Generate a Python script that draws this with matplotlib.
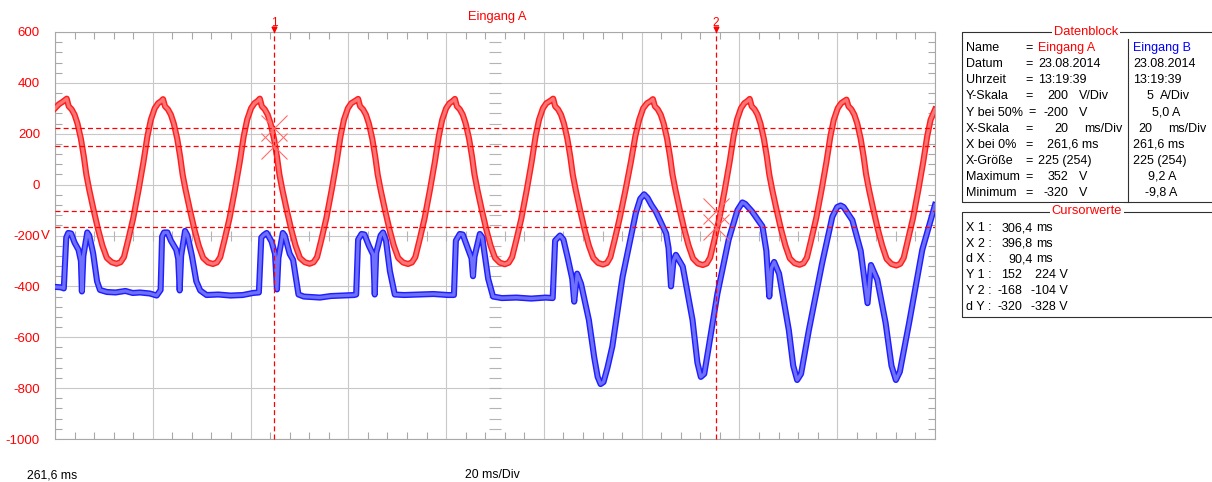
import numpy as np
import matplotlib
matplotlib.use("Agg")
import matplotlib.pyplot as plt
from matplotlib.lines import Line2D
from matplotlib.ticker import AutoMinorLocator

plt.rcParams['font.family'] = ['Liberation Sans', 'DejaVu Sans']

# --- screen settings -------------------------------------------------------
x_start = 261.6          # ms at left edge
x_div = 20               # ms/Div
n_xdiv = 9
y_ticks = [600, 400, 200, 0, -200, -400, -600, -800, -1000]
y_labels = ["600", "400", "200", "0", "-200", "-400", "-600", "-800", "-1000"]

# channel B scale (A): 5 A/Div, 5,0 A sits at screen centre (-200 V line)
b_per_div = 5.0
b_center = 5.0

# cursors
x1_ms, x2_ms = 306.4, 396.8
y1_vals = (152, 224)
y2_vals = (-168, -104)

# --- Eingang A (V) --------------------------------------------------------
t_a = [261.6, 262.4, 263.2,
       264.0, 264.4, 265.0, 265.6, 266.2, 266.9, 267.5, 268.0, 268.6, 269.5, 270.4, 271.3, 272.2, 273.2,
       274.2, 275.0, 275.7, 276.6, 277.6, 278.7, 279.7, 280.5, 281.2, 282.0, 282.7, 283.3,
       283.7, 284.1, 284.7, 285.3, 285.9, 286.6, 287.2, 287.7, 288.3, 289.2, 290.1, 291.0, 291.9, 292.9,
       293.9, 294.7, 295.4, 296.3, 297.3, 298.4, 299.4, 300.2, 300.9, 301.7, 302.4, 303.0,
       303.5, 303.9, 304.5, 305.1, 305.7, 306.4, 307.0, 307.5, 308.1, 309.0, 309.9, 310.8, 311.7, 312.7,
       313.7, 314.5, 315.2, 316.1, 317.1, 318.2, 319.2, 320.0, 320.7, 321.5, 322.2, 322.9,
       323.6, 324.0, 324.6, 325.2, 325.8, 326.5, 327.1, 327.6, 328.2, 329.1, 330.0, 330.9, 331.8, 332.8,
       333.8, 334.6, 335.3, 336.2, 337.2, 338.3, 339.3, 340.1, 340.8, 341.6, 342.3, 342.9,
       343.4, 343.8, 344.4, 345.0, 345.6, 346.3, 346.9, 347.4, 348.0, 348.9, 349.8, 350.7, 351.6, 352.6,
       353.6, 354.4, 355.1, 356.0, 357.0, 358.1, 359.1, 359.9, 360.6, 361.4, 362.1, 362.8,
       363.5, 363.9, 364.5, 365.1, 365.7, 366.4, 367.0, 367.5, 368.1, 369.0, 369.9, 370.8, 371.7, 372.7,
       373.7, 374.5, 375.2, 376.1, 377.1, 378.3, 379.4, 380.3, 381.1, 381.9, 382.7, 383.4,
       383.9, 384.3, 384.9, 385.5, 386.1, 386.8, 387.4, 387.9, 388.5, 389.4, 390.3, 391.2, 392.1, 393.1,
       394.1, 394.9, 395.6, 396.5, 397.5, 398.6, 399.6, 400.4, 401.1, 401.9, 402.6, 403.2,
       403.7, 404.1, 404.7, 405.3, 405.9, 406.6, 407.2, 407.7, 408.3, 409.2, 410.1, 411.0, 411.9, 412.9,
       413.9, 414.7, 415.4, 416.3, 417.3, 418.4, 419.4, 420.2, 420.9, 421.7, 422.4, 423.0,
       423.5, 423.9, 424.5, 425.1, 425.7, 426.4, 427.0, 427.5, 428.1, 429.0, 429.9, 430.8, 431.7, 432.7,
       433.7, 434.5, 435.2, 436.1, 437.1, 438.2, 439.2, 440.0, 440.7, 441.6]
u_a = [300, 316, 326,
       338, 308, 296, 275, 240, 180, 110, 40, -20, -100, -175, -240, -288, -305,
       -311, -305, -285, -215, -132, -20, 90, 190, 255, 300, 320, 328,
       336, 308, 296, 275, 240, 180, 110, 40, -20, -100, -175, -240, -288, -306,
       -312, -306, -285, -215, -132, -20, 90, 190, 255, 300, 320, 328,
       338, 308, 296, 275, 240, 180, 110, 40, -20, -100, -175, -240, -288, -305,
       -311, -305, -285, -215, -132, -20, 90, 190, 255, 300, 320, 328,
       337, 308, 296, 275, 240, 180, 110, 40, -20, -100, -175, -240, -288, -306,
       -312, -306, -285, -215, -132, -20, 90, 190, 255, 300, 320, 328,
       337, 308, 296, 275, 240, 180, 110, 40, -20, -100, -175, -240, -288, -307,
       -313, -307, -285, -215, -132, -20, 90, 190, 255, 300, 320, 328,
       338, 308, 296, 275, 240, 180, 110, 40, -20, -100, -175, -240, -288, -308,
       -314, -308, -285, -215, -132, -20, 90, 190, 255, 300, 320, 328,
       336, 308, 296, 275, 240, 180, 110, 40, -20, -100, -175, -240, -290, -310,
       -316, -310, -287, -215, -132, -20, 90, 190, 255, 300, 320, 328,
       337, 308, 296, 275, 240, 180, 110, 40, -20, -100, -175, -240, -290, -309,
       -315, -309, -287, -215, -132, -20, 90, 190, 255, 300, 320, 328,
       334, 308, 296, 275, 240, 180, 110, 40, -20, -100, -175, -240, -292, -312,
       -318, -311, -288, -215, -132, -20, 90, 190, 255, 295]

# --- Eingang B (A) --------------------------------------------------------
t_b = [261.6, 262.9, 263.4, 263.9, 264.3, 264.9, 265.6, 266.4, 266.9, 267.1, 267.4, 268.2, 268.6, 269.4, 270.2, 270.8,
       272.2, 274.0, 276.0, 277.5, 279.0, 281.0, 282.4,
       283.2, 283.5, 283.9, 284.6, 285.3, 286.4, 286.8, 287.1, 287.4, 288.2, 288.7, 289.6, 290.5, 291.3,
       292.6, 295.0, 297.5, 300.0, 302.1,
       303.3, 303.8, 304.3, 304.9, 305.9, 306.6, 307.0, 307.3, 308.2, 308.6, 309.6, 310.3, 311.4,
       312.5, 315.8, 318.0, 320.5, 322.8,
       323.2, 323.6, 324.3, 324.9, 325.8, 326.7, 327.0, 327.3, 328.2, 328.7, 329.3, 330.1, 331.1,
       333.0, 336.0, 339.0, 342.0, 343.2,
       343.6, 344.4, 345.0, 346.0, 346.8, 347.1, 347.4, 348.5, 349.0, 350.2, 351.2,
       353.0, 356.0, 359.0, 362.0, 363.4,
       363.9, 364.9, 365.6, 366.5, 367.4, 367.8, 368.4, 369.2, 370.8, 371.9, 372.6, 373.2, 373.8, 374.6,
       375.6, 377.7, 380.4, 381.3, 382.1, 382.8, 383.6, 384.5, 386.6, 387.1, 387.6, 388.1, 388.6, 390.0,
       392.0, 393.0, 393.7, 394.4, 395.3, 397.1, 399.4, 401.2, 402.2, 402.8, 404.2, 406.3, 407.1, 407.7,
       408.1, 408.7, 409.7, 411.7, 412.6, 413.4, 414.2, 415.8, 418.5, 420.6, 421.6, 422.3, 422.9, 424.7,
       426.4, 427.8, 428.5, 429.8, 431.5, 432.7, 433.6, 434.4, 436.3, 439.0, 441.6]
i_b = [-0.05, -0.1, -0.2, 4.8, 5.25, 5.2, 4.3, 3.6, 2.5, -0.5, 3.0, 5.3, 5.0, 3.25, 0.5, -0.35,
       -0.55, -0.6, -0.45, -0.65, -0.6, -0.7, -0.9,
       -0.35, 4.9, 5.3, 5.3, 4.5, 3.6, 2.7, -0.4, 3.0, 5.45, 5.0, 3.0, 0.5, -0.4,
       -0.85, -0.8, -0.9, -0.85, -0.65,
       -0.6, 4.8, 5.05, 5.25, 4.4, 3.2, -0.3, 2.8, 5.25, 5.0, 3.2, 2.6, -0.8,
       -1.0, -1.1, -0.95, -0.9, -0.85,
       -0.8, 4.6, 5.15, 5.1, 4.0, 3.1, -0.8, 3.3, 5.0, 5.3, 4.5, 1.5, -0.8,
       -0.85, -0.8, -0.75, -0.85, -0.85,
       4.5, 5.15, 5.1, 3.8, 2.75, 1.0, 2.9, 5.15, 4.8, 0.75, -1.0,
       -1.15, -1.1, -1.2, -1.1, -1.15,
       4.5, 5.0, 4.6, 2.75, 0.75, -1.5, 1.25, 0.25, -3.3, -7.0, -8.9, -9.6, -9.4, -8.0,
       -5.9, 0.95, 7.2, 8.6, 9.05, 8.7, 8.0, 7.35, 5.2, 3.75, 0.0, 2.5, 3.1, 1.95,
       -3.3, -7.5, -8.9, -8.6, -6.0, -0.7, 4.6, 7.5, 8.25, 8.1, 7.35, 5.9, 3.5, -1.0,
       1.75, 2.4, 1.25, -4.3, -7.8, -9.2, -8.6, -4.3, 2.25, 6.85, 7.8, 7.95, 7.8, 6.5,
       3.5, -1.65, 2.1, 0.65, -3.6, -7.8, -9.2, -8.4, -3.6, 3.6, 8.0]

# channel B on the screen scale
y_b = [(v - b_center) / b_per_div * 200 - 200 for v in i_b]

# --- figure ---------------------------------------------------------------
W, H = 1212, 482
fig = plt.figure(figsize=(W / 100, H / 100), dpi=100)
fig.patch.set_facecolor("white")


def fx(x):
    return x / W


def fy(y):
    return 1 - y / H


ax = fig.add_axes([fx(55), fy(439), fx(935) - fx(55), fy(32) - fy(439)])
x_end = x_start + n_xdiv * x_div
ax.set_xlim(x_start, x_end)
ax.set_ylim(-1000, 600)
ax.set_xticks([x_start + k * x_div for k in range(n_xdiv + 1)])
ax.set_yticks(y_ticks)
ax.set_yticklabels(y_labels, color="red", fontsize=9.5)
ax.tick_params(axis="x", which="major", length=0, labelbottom=False)
ax.tick_params(axis="y", which="major", length=0, pad=10.8)
ax.xaxis.set_minor_locator(AutoMinorLocator(5))
ax.yaxis.set_minor_locator(AutoMinorLocator(5))
ax.tick_params(which="minor", direction="in", length=5, width=0.8, color="#a8a8a8",
               top=True, right=True)
ax.grid(True, which="major", color="#c8c8c8", lw=0.8)
ax.set_axisbelow(True)
for s in ax.spines.values():
    s.set_color("#a8a8a8")
    s.set_linewidth(0.8)

# centre cross ticks
x_mid = x_start + n_xdiv * x_div / 2
ym = np.arange(-1000, 601, 40)
ax.plot([x_mid] * len(ym), ym, ls="none", marker="_", ms=8, mew=0.8, color="#b4b4b4", zorder=1)
xm = np.arange(x_start, x_end + 0.01, x_div / 5)
ax.plot(xm, [-200] * len(xm), ls="none", marker="|", ms=7, mew=0.8, color="#b4b4b4", zorder=1)

# traces (band look: dark edge, lighter core)
ax.plot(t_a, u_a, color="#ff1e1e", lw=4.4, solid_joinstyle="round", zorder=3)
ax.plot(t_a, u_a, color="#ff7474", lw=2.3, solid_joinstyle="round", zorder=3)
ax.plot(t_b, y_b, color="#1e1eff", lw=4.4, solid_joinstyle="round", zorder=4)
ax.plot(t_b, y_b, color="#7070ff", lw=2.3, solid_joinstyle="round", zorder=4)

# cursors
dash = (0, (4, 2.5))
for yv in list(y1_vals) + list(y2_vals):
    ax.axhline(yv, color="red", lw=0.9, ls=dash, zorder=5)
for k, xc in enumerate([x1_ms, x2_ms], start=1):
    ax.plot([xc, xc], [-1000, 608], color="red", lw=0.9, ls=dash, zorder=5, clip_on=False)
    ax.plot(xc, 610, marker="v", ms=3.5, color="red", clip_on=False, zorder=6)
    ax.text(xc, 637, str(k), color="red", ha="center", va="center", fontsize=8.5, clip_on=False)
for yv in y1_vals:
    ax.plot(x1_ms, yv, marker="x", ms=19, mew=0.8, color="#ff6a6a", zorder=6)
for yv in y2_vals:
    ax.plot(x2_ms, yv, marker="x", ms=19, mew=0.8, color="#ff6a6a", zorder=6)

fig.text(fx(497), fy(17), "Eingang A", color="red", ha="center", va="center", fontsize=9.3)
fig.text(fx(40.5), fy(235.5), "V", color="red", ha="left", va="center", fontsize=9.5)
fig.text(fx(27), fy(475), "261,6 ms", ha="left", va="center", fontsize=8.8)
fig.text(fx(465), fy(475), "20 ms/Div", ha="left", va="center", fontsize=8.8)


# --- data panel -----------------------------------------------------------
def line(xs, ys):
    fig.add_artist(Line2D([fx(x) for x in xs], [fy(y) for y in ys], color="#303030", lw=0.8))


def txt(x, y, s, ha="left", color="black"):
    fig.text(fx(x), fy(y), s, ha=ha, va="center", fontsize=9, color=color)


# Datenblock box
line([1212, 962, 962, 1212], [32, 32, 201.5, 201.5])
line([1128, 1128], [39, 201.5])
fig.text(fx(1086), fy(32), "Datenblock", color="red", ha="center", va="center", fontsize=9.3,
         bbox=dict(facecolor="white", edgecolor="none", pad=1.5))

rows_y = [48.3, 63.6, 79.6, 96.3, 112.5, 128.8, 144.8, 160.6, 176.7, 192.6]
labels = ["Name", "Datum", "Uhrzeit", "Y-Skala", "Y bei 50%", "X-Skala", "X bei 0%",
          "X-Größe", "Maximum", "Minimum"]
for yy, lab in zip(rows_y, labels):
    txt(966, yy, lab)
    txt(1025 if lab != "Y bei 50%" else 1028, yy, "=")

txt(1038, rows_y[0], "Eingang A", color="red")
txt(1133, rows_y[0], "Eingang B", color="blue")
txt(1038, rows_y[1], "23.08.2014")
txt(1133, rows_y[1], "23.08.2014")
txt(1038, rows_y[2], "13:19:39")
txt(1133, rows_y[2], "13:19:39")
# A column: number right aligned, unit left aligned
a_nums = [("200", "V/Div", 1079), ("-200", "V", 1079), ("20", "ms/Div", 1084)]
for (num, unit, ux), yy in zip(a_nums, rows_y[3:6]):
    txt(1068, yy, num, ha="right")
    txt(ux, yy, unit)
txt(1047, rows_y[6], "261,6 ms")
txt(1038, rows_y[7], "225 (254)")
txt(1068, rows_y[8], "352", ha="right")
txt(1079, rows_y[8], "V")
txt(1068, rows_y[9], "-320", ha="right")
txt(1079, rows_y[9], "V")
# B column
txt(1153, rows_y[3], "5", ha="right")
txt(1160, rows_y[3], "A/Div")
txt(1180, rows_y[4], "5,0 A", ha="right")
txt(1152, rows_y[5], "20", ha="right")
txt(1168, rows_y[5], "ms/Div")
txt(1133, rows_y[6], "261,6 ms")
txt(1133, rows_y[7], "225 (254)")
txt(1177, rows_y[8], "9,2 A", ha="right")
txt(1177, rows_y[9], "-9,8 A", ha="right")

# Cursorwerte box
line([1212, 962, 962, 1212], [211.5, 211.5, 316.5, 316.5])
fig.text(fx(1087), fy(211.5), "Cursorwerte", color="red", ha="center", va="center", fontsize=9.3,
         bbox=dict(facecolor="white", edgecolor="none", pad=1.5))


def de(v):
    return f"{v:.1f}".replace(".", ",")


cur_y = [228.3, 243.6, 259.2, 275.0, 291.0, 307.0]
txt(966, cur_y[0], "X 1 :")
txt(966, cur_y[1], "X 2 :")
txt(966, cur_y[2], "d X :")
txt(966, cur_y[3], "Y 1 :")
txt(966, cur_y[4], "Y 2 :")
txt(966, cur_y[5], "d Y :")
for yy, v in zip(cur_y[:3], [x1_ms, x2_ms, x2_ms - x1_ms]):
    txt(1033, yy, de(v), ha="right")
    txt(1036, yy, "ms")
dy = (y2_vals[0] - y1_vals[0], y2_vals[1] - y1_vals[1])
for yy, pair in zip(cur_y[3:], [y1_vals, y2_vals, dy]):
    txt(1022, yy, str(pair[0]), ha="right")
    txt(1068, yy, f"{pair[1]} V", ha="right")

fig.savefig("out.png", dpi=100, facecolor="white")
